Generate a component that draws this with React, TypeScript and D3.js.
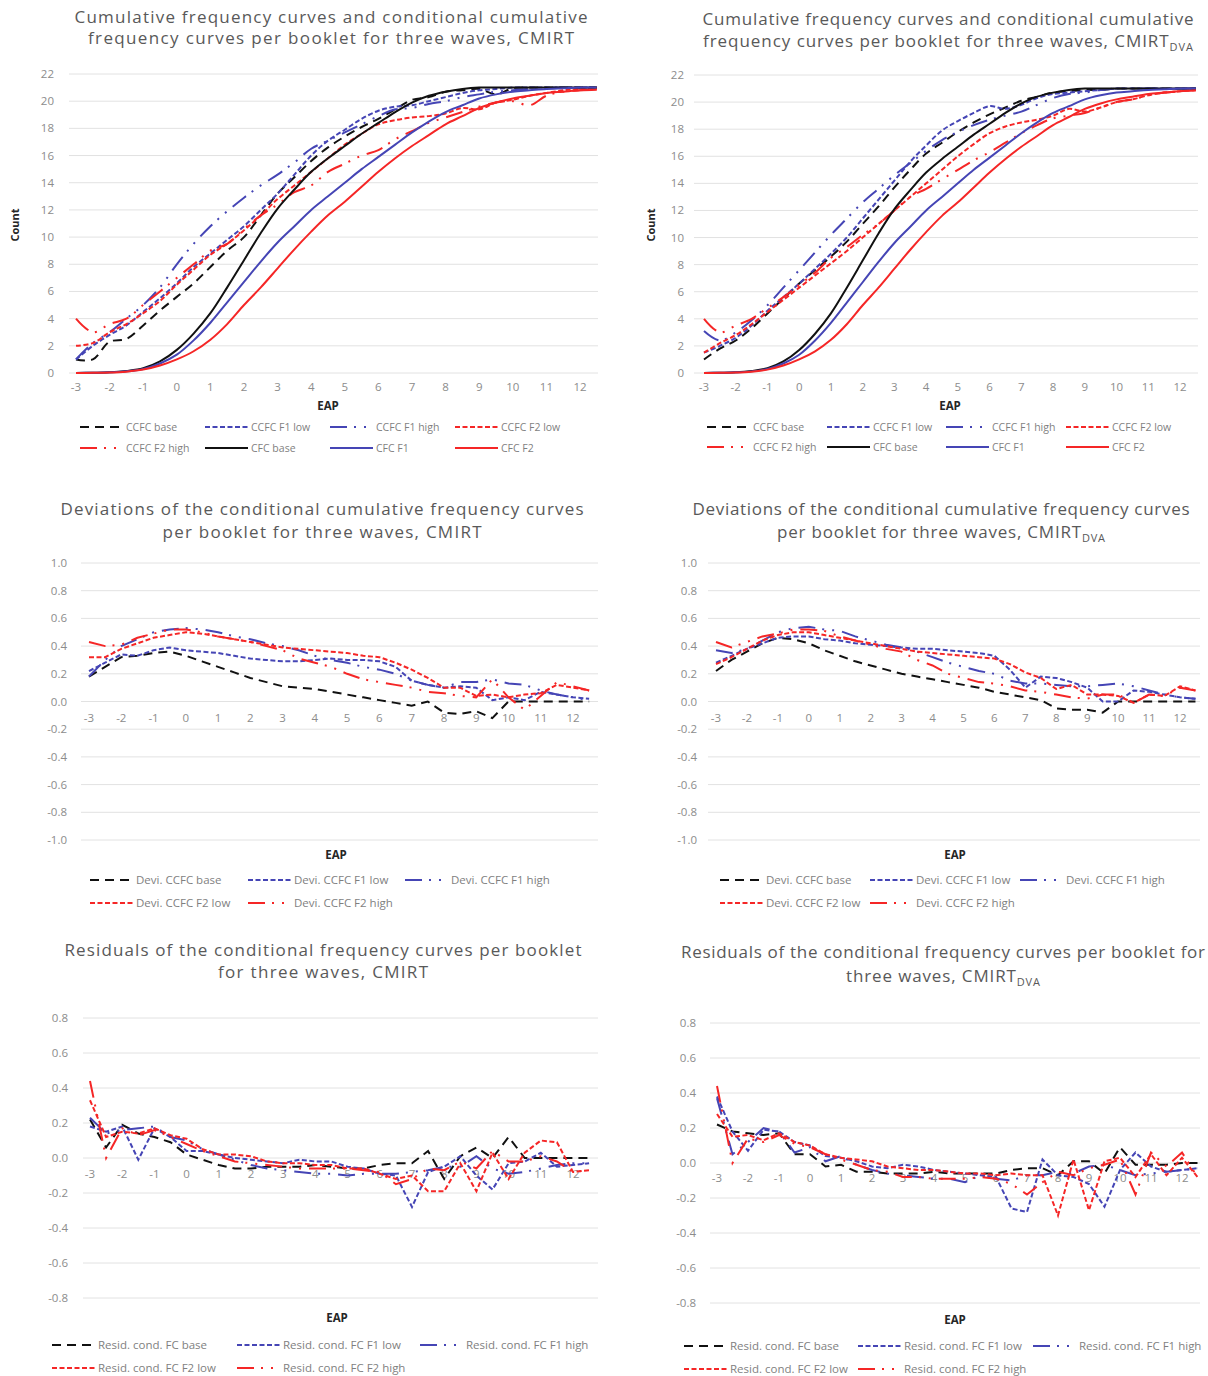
import React from "react";
import * as d3 from "d3";

// EAP grid shared by all panels
const eap = [-3, -2.5, -2, -1.5, -1, -0.5, 0, 0.5, 1, 1.5, 2, 2.5, 3, 3.5, 4, 4.5, 5, 5.5, 6, 6.5, 7, 7.5, 8, 8.5, 9, 9.5, 10, 10.5, 11, 11.5, 12, 12.5];
const xTickLabels = [-3, -2, -1, 0, 1, 2, 3, 4, 5, 6, 7, 8, 9, 10, 11, 12];
const countTicks = [0, 2, 4, 6, 8, 10, 12, 14, 16, 18, 20, 22];
const devTicks = [-1, -0.8, -0.6, -0.4, -0.2, 0, 0.2, 0.4, 0.6, 0.8, 1];
const resTicks = [-0.8, -0.6, -0.4, -0.2, 0, 0.2, 0.4, 0.6, 0.8];

// cumulative frequency curves (same for both models)
const cfcBase = [0, 0.02, 0.05, 0.15, 0.35, 0.85, 1.7, 2.9, 4.4, 6.3, 8.3, 10.3, 12.1, 13.5, 14.8, 15.8, 16.7, 17.6, 18.4, 19.2, 19.9, 20.4, 20.7, 20.9, 21, 21, 21, 21, 21, 21, 21, 21];
const cfcF1 = [0, 0.02, 0.05, 0.12, 0.3, 0.7, 1.35, 2.4, 3.7, 5.2, 6.7, 8.2, 9.6, 10.8, 12.0, 13.0, 14.0, 15.0, 15.9, 16.8, 17.7, 18.5, 19.2, 19.7, 20.2, 20.5, 20.7, 20.8, 20.9, 20.95, 21, 21];
const cfcF2 = [0, 0.01, 0.03, 0.1, 0.25, 0.55, 1.0, 1.6, 2.45, 3.6, 5.0, 6.3, 7.7, 9.1, 10.4, 11.6, 12.6, 13.7, 14.8, 15.8, 16.7, 17.5, 18.3, 18.9, 19.5, 19.9, 20.2, 20.4, 20.6, 20.7, 20.8, 20.85];

// CMIRT conditional curves
const ccfcBase1 = [1.0, 1.0, 2.3, 2.5, 3.5, 4.6, 5.6, 6.6, 7.8, 9.0, 10.0, 11.6, 13.2, 14.4, 15.6, 16.6, 17.4, 18.1, 18.7, 19.4, 20.1, 20.3, 20.7, 20.8, 20.9, 20.5, 20.95, 21, 21, 21, 21, 21];
const ccfcF1Low1 = [1.0, 2.0, 2.8, 3.5, 4.5, 5.5, 6.6, 7.8, 8.8, 9.8, 10.8, 12.0, 13.2, 14.6, 16.0, 17.1, 17.9, 18.7, 19.3, 19.6, 19.7, 20.0, 20.3, 20.6, 20.8, 20.9, 21, 21, 21, 21, 21, 21];
const ccfcF1High1 = [1.0, 2.2, 3.0, 4.0, 5.0, 6.3, 8.0, 9.5, 10.8, 11.9, 12.9, 13.8, 14.6, 15.5, 16.5, 17.1, 17.7, 18.3, 18.9, 19.4, 19.5, 19.8, 20.0, 20.3, 20.5, 20.7, 20.8, 20.9, 21, 21, 21, 21];
const ccfcF2Low1 = [2.0, 2.2, 3.0, 3.6, 4.4, 5.3, 6.5, 7.6, 8.7, 9.5, 10.5, 11.6, 12.8, 13.8, 14.8, 15.8, 16.8, 17.6, 18.3, 18.6, 18.8, 18.9, 19.1, 19.5, 19.4, 19.9, 20.1, 20.4, 20.6, 20.8, 20.9, 21.0];
const ccfcF2High1 = [4.0, 3.0, 3.6, 4.0, 5.0, 6.0, 7.0, 8.0, 9.0, 9.5, 10.6, 11.6, 12.4, 13.3, 13.8, 14.8, 15.4, 16.0, 16.4, 17.2, 17.8, 18.4, 18.8, 19.2, 19.6, 19.9, 20.0, 19.7, 20.4, 20.7, 20.8, 20.9];

// CMIRT DVA conditional curves
const ccfcBase2 = [1.0, 1.8, 2.4, 3.3, 4.4, 5.5, 6.6, 7.6, 8.6, 9.7, 11.0, 12.3, 13.7, 15.0, 16.2, 17.0, 17.8, 18.5, 19.1, 19.6, 20.1, 20.4, 20.7, 20.8, 20.9, 20.9, 21, 21, 21, 21, 21, 21];
const ccfcF1Low2 = [1.5, 2.0, 2.6, 3.5, 4.6, 5.6, 6.6, 7.7, 8.8, 10.0, 11.4, 12.8, 14.2, 15.6, 16.8, 17.9, 18.6, 19.2, 19.7, 19.5, 19.8, 20.3, 20.6, 20.7, 20.8, 20.9, 21, 21, 21, 21, 21, 21];
const ccfcF1High2 = [3.1, 2.4, 3.0, 3.9, 5.0, 6.3, 7.6, 8.9, 10.2, 11.4, 12.6, 13.6, 14.6, 15.5, 16.4, 17.2, 17.8, 18.3, 18.7, 19.0, 19.3, 19.8, 20.3, 20.6, 20.7, 20.9, 21, 21, 21, 21, 21, 21];
const ccfcF2Low2 = [1.5, 2.2, 2.8, 3.6, 4.5, 5.4, 6.3, 7.2, 8.1, 9.0, 10.0, 11.0, 12.0, 13.0, 14.0, 15.0, 16.0, 16.9, 17.7, 18.2, 18.5, 18.7, 19.0, 19.5, 19.3, 19.6, 20.0, 20.2, 20.5, 20.7, 20.8, 20.9];
const ccfcF2High2 = [4.0, 3.0, 3.5, 4.0, 4.8, 5.6, 6.5, 7.4, 8.5, 9.3, 10.2, 11.0, 12.0, 13.0, 13.6, 14.3, 15.0, 15.7, 16.3, 17.0, 17.7, 18.3, 18.8, 19.0, 19.2, 19.6, 20.0, 20.2, 20.5, 20.7, 20.8, 20.9];

// deviations, CMIRT
const devBase3 = [0.18, 0.25, 0.32, 0.33, 0.35, 0.36, 0.33, 0.29, 0.25, 0.21, 0.17, 0.14, 0.11, 0.10, 0.09, 0.07, 0.05, 0.03, 0.01, -0.01, -0.03, 0.0, -0.08, -0.09, -0.07, -0.12, 0.0, 0.0, 0.0, 0.0, 0.0, 0.0];
const devF1Low3 = [0.22, 0.28, 0.34, 0.33, 0.37, 0.39, 0.37, 0.36, 0.35, 0.33, 0.31, 0.30, 0.29, 0.29, 0.30, 0.31, 0.30, 0.30, 0.29, 0.25, 0.15, 0.12, 0.10, 0.11, 0.10, 0.01, 0.03, 0.01, 0.07, 0.05, 0.03, 0.02];
const devF1High3 = [0.18, 0.30, 0.40, 0.45, 0.50, 0.52, 0.53, 0.52, 0.50, 0.47, 0.45, 0.42, 0.40, 0.37, 0.33, 0.30, 0.28, 0.25, 0.23, 0.20, 0.15, 0.12, 0.10, 0.14, 0.14, 0.16, 0.13, 0.12, 0.08, 0.05, 0.03, 0.01];
const devF2Low3 = [0.32, 0.32, 0.38, 0.42, 0.46, 0.48, 0.50, 0.49, 0.47, 0.45, 0.43, 0.41, 0.39, 0.38, 0.37, 0.36, 0.35, 0.33, 0.32, 0.28, 0.23, 0.17, 0.10, 0.10, 0.04, 0.05, 0.03, 0.05, 0.06, 0.12, 0.10, 0.08];
const devF2High3 = [0.43, 0.40, 0.41, 0.46, 0.49, 0.52, 0.52, 0.50, 0.47, 0.45, 0.43, 0.40, 0.37, 0.31, 0.28, 0.25, 0.20, 0.16, 0.14, 0.12, 0.10, 0.07, 0.06, 0.04, 0.03, 0.16, 0.03, -0.06, 0.04, 0.14, 0.11, 0.08];

// deviations, CMIRT DVA
const devBase4 = [0.22, 0.30, 0.36, 0.42, 0.46, 0.45, 0.42, 0.37, 0.33, 0.29, 0.26, 0.23, 0.20, 0.18, 0.16, 0.14, 0.12, 0.10, 0.07, 0.05, 0.03, 0.01, -0.05, -0.06, -0.06, -0.08, 0.0, 0.0, 0.0, 0.0, 0.0, 0.0];
const devF1Low4 = [0.28, 0.33, 0.38, 0.42, 0.46, 0.47, 0.47, 0.45, 0.44, 0.42, 0.41, 0.40, 0.39, 0.38, 0.38, 0.37, 0.36, 0.35, 0.33, 0.23, 0.10, 0.18, 0.17, 0.14, 0.10, 0.0, 0.0, 0.08, 0.07, 0.05, 0.03, 0.02];
const devF1High4 = [0.37, 0.35, 0.38, 0.44, 0.50, 0.53, 0.54, 0.52, 0.51, 0.47, 0.44, 0.41, 0.39, 0.36, 0.32, 0.28, 0.25, 0.22, 0.20, 0.15, 0.13, 0.13, 0.12, 0.11, 0.11, 0.12, 0.13, 0.11, 0.08, 0.05, 0.03, 0.02];
const devF2Low4 = [0.27, 0.32, 0.38, 0.44, 0.48, 0.50, 0.50, 0.48, 0.46, 0.44, 0.42, 0.40, 0.38, 0.36, 0.35, 0.34, 0.33, 0.32, 0.31, 0.27, 0.21, 0.17, 0.09, 0.12, 0.05, 0.05, 0.04, -0.01, 0.05, 0.04, 0.11, 0.08];
const devF2High4 = [0.43, 0.39, 0.43, 0.47, 0.49, 0.52, 0.52, 0.51, 0.47, 0.44, 0.41, 0.38, 0.36, 0.30, 0.26, 0.20, 0.17, 0.14, 0.13, 0.11, 0.08, 0.07, 0.05, 0.03, 0.02, 0.05, 0.05, -0.01, 0.05, 0.04, 0.10, 0.08];

// residuals, CMIRT
const resBase5 = [0.22, 0.06, 0.19, 0.14, 0.12, 0.09, 0.02, -0.01, -0.04, -0.06, -0.06, -0.05, -0.05, -0.05, -0.04, -0.05, -0.06, -0.06, -0.04, -0.03, -0.03, 0.04, -0.12, 0.01, 0.06, 0.0, 0.12, 0.0, 0.0, 0.0, 0.0, 0.0];
const resF1Low5 = [0.18, 0.15, 0.18, -0.01, 0.17, 0.12, 0.04, 0.04, 0.02, 0.0, -0.01, -0.02, -0.03, -0.01, -0.02, -0.02, -0.05, -0.06, -0.09, -0.10, -0.28, -0.08, -0.05, 0.01, -0.10, -0.18, -0.03, -0.02, 0.03, -0.05, -0.04, -0.03];
const resF1High5 = [0.23, 0.14, 0.16, 0.17, 0.18, 0.12, 0.10, 0.05, 0.02, -0.01, -0.04, -0.06, -0.07, -0.08, -0.09, -0.09, -0.10, -0.09, -0.09, -0.09, -0.08, -0.07, -0.05, -0.05, 0.01, -0.06, -0.09, -0.08, -0.06, -0.04, -0.03, -0.03];
const resF2Low5 = [0.33, 0.12, 0.15, 0.14, 0.17, 0.13, 0.11, 0.05, 0.02, 0.02, 0.01, -0.02, -0.03, -0.03, -0.04, -0.04, -0.06, -0.06, -0.09, -0.12, -0.10, -0.19, -0.19, -0.03, -0.19, 0.03, -0.12, 0.03, 0.10, 0.09, -0.08, -0.07];
const resF2High5 = [0.44, 0.0, 0.17, 0.13, 0.16, 0.12, 0.08, 0.04, 0.01, -0.02, -0.03, -0.04, -0.05, -0.06, -0.06, -0.06, -0.06, -0.07, -0.08, -0.15, -0.12, -0.06, -0.07, -0.02, -0.06, 0.04, -0.02, -0.02, 0.01, -0.02, -0.08, -0.07];

// residuals, CMIRT DVA
const resBase6 = [0.22, 0.18, 0.17, 0.16, 0.17, 0.05, 0.05, -0.02, -0.01, -0.05, -0.05, -0.06, -0.06, -0.06, -0.05, -0.06, -0.06, -0.06, -0.06, -0.04, -0.03, -0.03, -0.07, 0.01, 0.01, -0.06, 0.09, -0.01, -0.01, -0.01, 0.0, 0.0];
const resF1Low6 = [0.38, 0.18, 0.07, 0.19, 0.18, 0.12, 0.10, 0.04, 0.03, 0.01, -0.02, -0.03, -0.01, -0.02, -0.04, -0.05, -0.06, -0.07, -0.08, -0.26, -0.28, 0.02, -0.07, -0.08, -0.12, -0.25, -0.04, 0.06, -0.02, -0.05, -0.04, -0.03];
const resF1High6 = [0.37, 0.05, 0.12, 0.20, 0.18, 0.06, 0.09, 0.01, 0.04, -0.01, -0.04, -0.06, -0.07, -0.08, -0.09, -0.09, -0.11, -0.07, -0.09, -0.10, -0.07, -0.07, -0.05, -0.06, -0.02, -0.01, -0.04, -0.07, -0.06, -0.05, -0.04, -0.03];
const resF2Low6 = [0.28, 0.15, 0.16, 0.13, 0.17, 0.12, 0.10, 0.05, 0.03, 0.02, 0.01, -0.02, -0.03, -0.04, -0.04, -0.05, -0.06, -0.06, -0.07, -0.06, -0.07, -0.07, -0.30, 0.02, -0.27, 0.01, 0.03, -0.08, 0.05, -0.07, 0.03, -0.08];
const resF2High6 = [0.44, 0.0, 0.14, 0.12, 0.16, 0.11, 0.09, 0.05, 0.02, -0.01, -0.04, -0.05, -0.08, -0.08, -0.09, -0.09, -0.09, -0.08, -0.09, -0.12, -0.18, -0.11, -0.05, -0.07, -0.03, -0.01, 0.02, -0.18, 0.06, -0.02, 0.06, -0.08];

const BLACK = "#111111";
const BLUE = "#4545b5";
const RED = "#f52626";
const DASH = "9,6";
const SHORT = "5,2.5";
const DDOT = "17,7,2,8,2,8";

const styleOf: Record<string, { color: string; dash: string | null }> = {
  base: { color: BLACK, dash: DASH },
  f1low: { color: BLUE, dash: SHORT },
  f1high: { color: BLUE, dash: DDOT },
  f2low: { color: RED, dash: SHORT },
  f2high: { color: RED, dash: DDOT },
  cfcBase: { color: BLACK, dash: null },
  cfcF1: { color: BLUE, dash: null },
  cfcF2: { color: RED, dash: null },
};

const cumSeries = (b, f1l, f1h, f2l, f2h) => [
  { key: "base", label: "CCFC base", values: b },
  { key: "f1low", label: "CCFC F1 low", values: f1l },
  { key: "f1high", label: "CCFC F1 high", values: f1h },
  { key: "f2low", label: "CCFC F2 low", values: f2l },
  { key: "f2high", label: "CCFC F2 high", values: f2h },
  { key: "cfcBase", label: "CFC base", values: cfcBase },
  { key: "cfcF1", label: "CFC F1", values: cfcF1 },
  { key: "cfcF2", label: "CFC F2", values: cfcF2 },
];

const fiveSeries = (prefix, b, f1l, f1h, f2l, f2h) => [
  { key: "base", label: prefix + " base", values: b },
  { key: "f1low", label: prefix + " F1 low", values: f1l },
  { key: "f1high", label: prefix + " F1 high", values: f1h },
  { key: "f2low", label: prefix + " F2 low", values: f2l },
  { key: "f2high", label: prefix + " F2 high", values: f2h },
];

const panels = [
  {
    title: ["Cumulative frequency curves and conditional cumulative", "frequency curves per booklet for three waves,  CMIRT"],
    dva: false, tx: 331, ty: [23, 44], tlen: [513, 486],
    xr: [76, 580], grid: [69, 598], yd: [0, 22], yr: [373, 74], ticks: countTicks, fmt: (v) => String(v),
    ylx: 54, xly: 391, eap: [328, 410], count: [15, 225], smooth: true,
    series: cumSeries(ccfcBase1, ccfcF1Low1, ccfcF1High1, ccfcF2Low1, ccfcF2High1),
    lx: [80, 205, 330, 455], ly: [427, 448], per: 4, fs: 10.5,
  },
  {
    title: ["Cumulative frequency curves and conditional cumulative", "frequency curves per booklet for three waves,  CMIRT"],
    dva: true, tx: 948, ty: [25, 47], tlen: [491, 490],
    xr: [704, 1180], grid: [694, 1198], yd: [0, 22], yr: [373, 75], ticks: countTicks, fmt: (v) => String(v),
    ylx: 684, xly: 391, eap: [950, 410], count: [651, 225], smooth: true,
    series: cumSeries(ccfcBase2, ccfcF1Low2, ccfcF1High2, ccfcF2Low2, ccfcF2High2),
    lx: [707, 827, 946, 1066], ly: [427, 447], per: 4, fs: 10.5,
  },
  {
    title: ["Deviations of the conditional cumulative frequency curves", "per booklet for three waves, CMIRT"],
    dva: false, tx: 322, ty: [515, 538], tlen: [523, 319],
    xr: [89, 573], grid: [81, 598], yd: [-1, 1], yr: [840, 563], ticks: devTicks, fmt: (v) => v.toFixed(1),
    ylx: 67, xly: 722, eap: [336, 859], count: null, smooth: false,
    series: fiveSeries("Devi. CCFC", devBase3, devF1Low3, devF1High3, devF2Low3, devF2High3),
    lx: [90, 248, 405], ly: [880, 903], per: 3, fs: 11.5,
  },
  {
    title: ["Deviations of the conditional cumulative frequency curves", "per booklet for three waves, CMIRT"],
    dva: true, tx: 941, ty: [515, 538], tlen: [497, 328],
    xr: [716, 1180], grid: [708, 1200], yd: [-1, 1], yr: [840, 563], ticks: devTicks, fmt: (v) => v.toFixed(1),
    ylx: 697, xly: 722, eap: [955, 859], count: null, smooth: false,
    series: fiveSeries("Devi. CCFC", devBase4, devF1Low4, devF1High4, devF2Low4, devF2High4),
    lx: [720, 870, 1020], ly: [880, 903], per: 3, fs: 11.5,
  },
  {
    title: ["Residuals of the conditional frequency curves per booklet", "for three waves, CMIRT"],
    dva: false, tx: 323, ty: [956, 978], tlen: [517, 210],
    xr: [90, 573], grid: [83, 598], yd: [-0.8, 0.8], yr: [1298, 1018], ticks: resTicks, fmt: (v) => v.toFixed(1),
    ylx: 68, xly: 1178, eap: [337, 1322], count: null, smooth: false,
    series: fiveSeries("Resid. cond. FC", resBase5, resF1Low5, resF1High5, resF2Low5, resF2High5),
    lx: [52, 237, 420], ly: [1345, 1368], per: 3, fs: 11.5,
  },
  {
    title: ["Residuals of the conditional frequency curves per booklet for", "three waves, CMIRT"],
    dva: true, tx: 943, ty: [958, 982], tlen: [524, 194],
    xr: [717, 1182], grid: [710, 1200], yd: [-0.8, 0.8], yr: [1303, 1023], ticks: resTicks, fmt: (v) => v.toFixed(1),
    ylx: 696, xly: 1182, eap: [955, 1324], count: null, smooth: false,
    series: fiveSeries("Resid. cond. FC", resBase6, resF1Low6, resF1High6, resF2Low6, resF2High6),
    lx: [684, 858, 1033], ly: [1346, 1369], per: 3, fs: 11.5,
  },
];

const FONT = "'Open Sans', 'Liberation Sans', sans-serif";

function Panel({ p }) {
  const x = d3.scaleLinear().domain([-3, 12]).range(p.xr);
  const y = d3.scaleLinear().domain(p.yd).range(p.yr);
  const line = d3
    .line<number>()
    .x((_, i) => x(eap[i]))
    .y((d) => y(d))
    .curve(p.smooth ? d3.curveCatmullRom.alpha(0.5) : d3.curveLinear);

  return (
    <g>
      {p.title.map((t, i) => (
        <text
          key={i}
          x={p.tx}
          y={p.ty[i]}
          textAnchor="middle"
          fontSize={17}
          fill="#595959"
          textLength={p.tlen[i]}
          lengthAdjust="spacing"
        >
          {t}
          {i === 1 && p.dva ? (
            <tspan fontSize={11} dy={4}>DVA</tspan>
          ) : null}
        </text>
      ))}

      {p.ticks.map((t) => (
        <g key={t}>
          <line x1={p.grid[0]} x2={p.grid[1]} y1={y(t)} y2={y(t)} stroke="#e2e2e2" strokeWidth={1} />
          <text x={p.ylx} y={y(t) + 4} textAnchor="end" fontSize={11.5} fill="#8c8c8c">
            {p.fmt(t)}
          </text>
        </g>
      ))}

      {xTickLabels.map((t) => (
        <text key={t} x={x(t)} y={p.xly} textAnchor="middle" fontSize={11.5} fill="#8c8c8c">
          {t}
        </text>
      ))}

      {p.series.map((s) => (
        <path
          key={s.key}
          d={line(s.values)}
          fill="none"
          stroke={styleOf[s.key].color}
          strokeWidth={2}
          strokeDasharray={styleOf[s.key].dash || undefined}
        />
      ))}

      <text x={p.eap[0]} y={p.eap[1]} textAnchor="middle" fontSize={11.5} fontWeight="bold" fill="#262626">
        EAP
      </text>
      {p.count ? (
        <text
          transform={`translate(${p.count[0] + 4},${p.count[1]}) rotate(-90)`}
          textAnchor="middle"
          fontSize={11}
          fontWeight="bold"
          fill="#262626"
        >
          Count
        </text>
      ) : null}

      {p.series.map((s, i) => {
        const cx = p.lx[i % p.per];
        const cy = p.ly[Math.floor(i / p.per)];
        return (
          <g key={"lg" + s.key}>
            <line
              x1={cx}
              x2={cx + 43}
              y1={cy}
              y2={cy}
              stroke={styleOf[s.key].color}
              strokeWidth={2}
              strokeDasharray={styleOf[s.key].dash || undefined}
            />
            <text x={cx + 46} y={cy + 4} fontSize={p.fs} fill="#7f7f7f">
              {s.label}
            </text>
          </g>
        );
      })}
    </g>
  );
}

export default function App() {
  return (
    <svg
      width={1208}
      height={1376}
      style={{ position: "absolute", left: 0, top: 0, background: "#fff", fontFamily: FONT }}
    >
      <rect width={1208} height={1376} fill="#fff" />
      {panels.map((p, i) => (
        <Panel key={i} p={p} />
      ))}
    </svg>
  );
}
